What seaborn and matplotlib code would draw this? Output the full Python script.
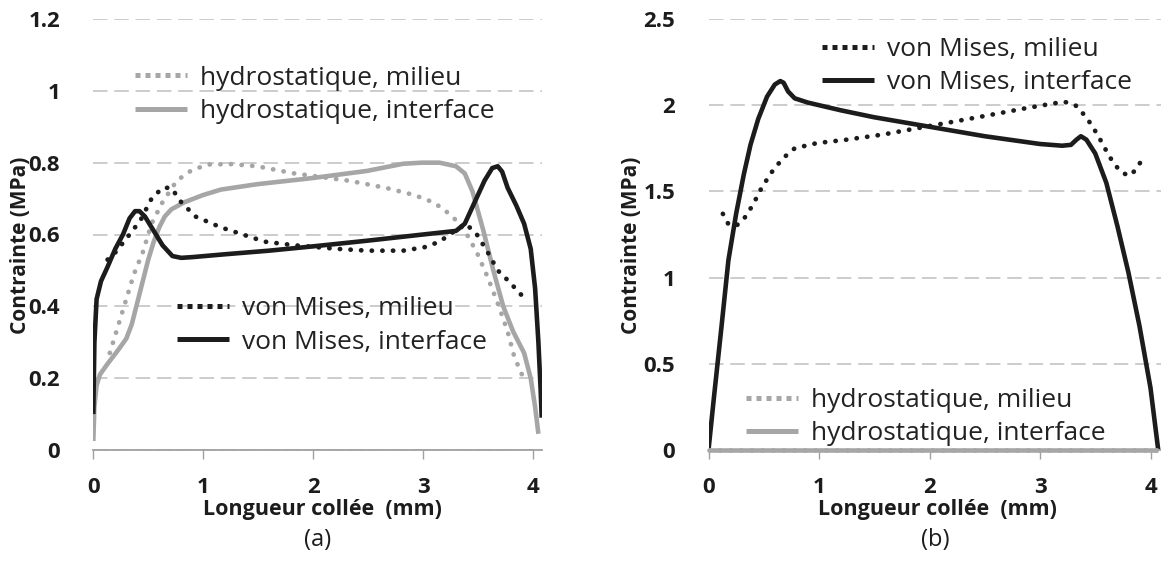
import matplotlib
matplotlib.use("Agg")
import matplotlib.pyplot as plt
import seaborn as sns
import pandas as pd
from matplotlib.lines import Line2D

# ---------------- data (panel a) ----------------
vm_int_a_x = [0, 0.01, 0.03, 0.07, 0.13, 0.2, 0.27, 0.33, 0.38, 0.42, 0.47, 0.55, 0.63, 0.72, 0.8,
              0.9, 1.2, 1.6, 2.0, 2.5, 3.0, 3.3, 3.38, 3.47, 3.56, 3.63, 3.68, 3.72, 3.77, 3.85,
              3.92, 3.98, 4.02, 4.05, 4.07, 4.08]
vm_int_a_y = [0.10, 0.30, 0.42, 0.47, 0.51, 0.56, 0.60, 0.645, 0.665, 0.665, 0.65, 0.61, 0.57, 0.54, 0.535,
              0.537, 0.545, 0.555, 0.567, 0.583, 0.60, 0.61, 0.63, 0.69, 0.75, 0.785, 0.79, 0.775, 0.73, 0.68,
              0.63, 0.56, 0.45, 0.30, 0.17, 0.09]

vm_mil_a_x = [0.13, 0.2, 0.33, 0.43, 0.53, 0.63, 0.71, 0.8, 0.93, 1.16, 1.36, 1.56, 1.83, 2.22, 2.49,
              2.82, 3.02, 3.15, 3.29, 3.39, 3.49, 3.59, 3.68, 3.78, 3.9]
vm_mil_a_y = [0.53, 0.55, 0.60, 0.64, 0.70, 0.73, 0.73, 0.69, 0.65, 0.62, 0.60, 0.58, 0.57, 0.56, 0.555,
              0.555, 0.565, 0.58, 0.61, 0.63, 0.60, 0.55, 0.50, 0.47, 0.43]

hy_mil_a_x = [0.15, 0.2, 0.28, 0.37, 0.45, 0.53, 0.63, 0.76, 0.9, 1.05, 1.26, 1.49, 1.83, 2.32, 2.66,
              2.92, 3.09, 3.19, 3.3, 3.4, 3.49, 3.59, 3.69, 3.77, 3.83, 3.9]
hy_mil_a_y = [0.27, 0.32, 0.40, 0.49, 0.55, 0.63, 0.69, 0.75, 0.78, 0.795, 0.796, 0.79, 0.77, 0.75, 0.73,
              0.71, 0.69, 0.67, 0.64, 0.60, 0.55, 0.48, 0.40, 0.33, 0.26, 0.21]

hy_int_a_x = [0, 0.01, 0.03, 0.06, 0.13, 0.23, 0.3, 0.35, 0.4, 0.45, 0.5, 0.55, 0.6, 0.65, 0.71, 0.77,
              0.83, 1.0, 1.16, 1.49, 1.99, 2.49, 2.82, 2.99, 3.15, 3.3, 3.38, 3.45, 3.55, 3.64, 3.73,
              3.82, 3.92, 3.98, 4.02, 4.05]
hy_int_a_y = [0.025, 0.12, 0.18, 0.21, 0.24, 0.28, 0.31, 0.35, 0.41, 0.47, 0.53, 0.58, 0.62, 0.65, 0.67, 0.68,
              0.69, 0.71, 0.725, 0.74, 0.757, 0.777, 0.797, 0.80, 0.80, 0.79, 0.77, 0.72, 0.61, 0.50, 0.40,
              0.33, 0.27, 0.20, 0.12, 0.045]

# ---------------- data (panel b) ----------------
vm_int_b_x = [0, 0.05, 0.12, 0.18, 0.25, 0.32, 0.38, 0.45, 0.53, 0.6, 0.65, 0.68, 0.72, 0.78, 0.9,
              1.2, 1.5, 2.0, 2.5, 3.0, 3.2, 3.28, 3.33, 3.37, 3.42, 3.5, 3.6, 3.7, 3.8, 3.9, 4.0, 4.07]
vm_int_b_y = [0, 0.31, 0.73, 1.10, 1.37, 1.60, 1.77, 1.92, 2.05, 2.12, 2.14, 2.13, 2.08, 2.04, 2.015,
              1.97, 1.93, 1.875, 1.82, 1.775, 1.765, 1.77, 1.80, 1.82, 1.80, 1.72, 1.55, 1.30, 1.03, 0.72, 0.36, 0.0]

vm_mil_b_x = [0.13, 0.18, 0.25, 0.32, 0.4, 0.48, 0.57, 0.67, 0.78, 0.98, 1.25, 1.58, 1.92, 2.18, 2.52,
              2.85, 3.12, 3.22, 3.32, 3.42, 3.52, 3.63, 3.72, 3.8, 3.86, 3.92]
vm_mil_b_y = [1.37, 1.31, 1.30, 1.34, 1.42, 1.52, 1.61, 1.69, 1.75, 1.78, 1.80, 1.83, 1.87, 1.90, 1.94,
              1.98, 2.01, 2.02, 2.00, 1.93, 1.83, 1.70, 1.62, 1.59, 1.62, 1.68]

hy_b_x = [0, 1, 2, 3, 4, 4.07]
hy_mil_b_y = [0, 0, 0, 0, 0, 0]
hy_int_b_y = [0, 0, 0, 0, 0, 0]

yticks_a = [0, 0.2, 0.4, 0.6, 0.8, 1, 1.2]
ytick_labels_a = ["0", "0.2", "0.4", "0.6", "0.8", "1", "1.2"]
yticks_b = [0, 0.5, 1, 1.5, 2, 2.5]
ytick_labels_b = ["0", "0.5", "1", "1.5", "2", "2.5"]
xticks = [0, 1, 2, 3, 4]

labels = {"hm": "hydrostatique, milieu", "hi": "hydrostatique, interface",
          "vm": "von Mises, milieu", "vi": "von Mises, interface"}
xlabel = "Longueur collée  (mm)"
ylabel = "Contrainte (MPa)"

# ---------------- style ----------------
sns.set_theme(style="white")
plt.rcParams["font.family"] = ["Open Sans", "DejaVu Sans"]

BLACK = "#1c1c1c"
GRAY = "#a6a6a6"
AXGRAY = "#a0a0a0"
GRID = "#c8c8c8"

fig = plt.figure(figsize=(11.61, 5.63), dpi=100)
axA = fig.add_axes([93.3 / 1161, 1 - 450 / 563, 448.4 / 1161, 431 / 563])
axB = fig.add_axes([708.5 / 1161, 1 - 450 / 563, 452.5 / 1161, 431 / 563])

dot = (0, (0.05, 2.2))
styles = {
    "hm": dict(color=GRAY, lw=3.4, linestyle=dot, dash_capstyle="round"),
    "hi": dict(color=GRAY, lw=3.3, linestyle="-", solid_capstyle="butt"),
    "vm": dict(color=BLACK, lw=3.4, linestyle=dot, dash_capstyle="round"),
    "vi": dict(color=BLACK, lw=3.3, linestyle="-", solid_capstyle="butt"),
}
leg_styles = {
    "hm": dict(color=GRAY, lw=3.6, linestyle=(0, (1, 1)), dash_capstyle="butt"),
    "hi": dict(color=GRAY, lw=3.6, linestyle="-", solid_capstyle="butt"),
    "vm": dict(color=BLACK, lw=3.6, linestyle=(0, (1, 1)), dash_capstyle="butt"),
    "vi": dict(color=BLACK, lw=3.6, linestyle="-", solid_capstyle="butt"),
}


def draw(ax, x, y, key, **extra):
    df = pd.DataFrame({"x": x, "y": y})
    sns.lineplot(data=df, x="x", y="y", ax=ax, sort=False, estimator=None,
                 legend=False, **styles[key], **extra)


draw(axA, hy_mil_a_x, hy_mil_a_y, "hm")
draw(axA, hy_int_a_x, hy_int_a_y, "hi")
draw(axA, vm_mil_a_x, vm_mil_a_y, "vm")
draw(axA, vm_int_a_x, vm_int_a_y, "vi")

draw(axB, vm_mil_b_x, vm_mil_b_y, "vm")
draw(axB, vm_int_b_x, vm_int_b_y, "vi")
draw(axB, hy_b_x, hy_mil_b_y, "hm", clip_on=False, zorder=5)
draw(axB, hy_b_x, hy_int_b_y, "hi", clip_on=False, zorder=6)


def style_axes(ax, yticks, ylabels, xmax, ymax, panel, xl_x, yl_x):
    ax.set_xlim(0, xmax)
    ax.set_ylim(0, ymax)
    ax.set_yticks(yticks)
    ax.set_yticklabels(ylabels)
    ax.set_xticks(xticks)
    ax.set_xticklabels([str(t) for t in xticks])
    for s in ["left", "right", "top"]:
        ax.spines[s].set_visible(False)
    ax.spines["bottom"].set_color(AXGRAY)
    ax.spines["bottom"].set_linewidth(1.3)
    ax.yaxis.grid(True, color=GRID, linestyle=(0, (8, 3.8)), linewidth=1.3)
    ax.xaxis.grid(False)
    ax.set_axisbelow(True)
    ax.tick_params(axis="x", bottom=True, direction="out", length=6.5, width=1.0,
                   color=AXGRAY, pad=13, labelsize=16, labelcolor=BLACK)
    ax.tick_params(axis="y", left=False, pad=18, labelsize=16, labelcolor=BLACK)
    for t in ax.get_xticklabels() + ax.get_yticklabels():
        t.set_fontweight("bold")
    ax.set_xlabel(xlabel, fontsize=15.5, fontweight="bold", color=BLACK)
    ax.set_ylabel(ylabel, fontsize=15, fontweight="bold", color=BLACK)
    ax.xaxis.set_label_coords(xl_x, -0.139)
    ax.xaxis.label.set_va("center")
    ax.yaxis.set_label_coords(yl_x, 0.476)
    ax.yaxis.label.set_va("center")
    ax.text(0.5, -0.209, panel, transform=ax.transAxes, ha="center", va="center",
            fontsize=17, color=BLACK)


style_axes(axA, yticks_a, ytick_labels_a, 4.08, 1.2, "(a)", 0.51, -0.163)
style_axes(axB, yticks_b, ytick_labels_b, 4.095, 2.5, "(b)", 0.505, -0.17)


def add_legend(ax, keys, xy):
    handles = [Line2D([], [], **leg_styles[k]) for k in keys]
    leg = ax.legend(handles, [labels[k] for k in keys],
                    loc="center left", bbox_to_anchor=xy, frameon=False,
                    fontsize=19, handlelength=1.97, handletextpad=0.5,
                    labelspacing=0.32, borderpad=0, borderaxespad=0)
    for t in leg.get_texts():
        t.set_color("#222222")
    return leg


legA1 = add_legend(axA, ["hm", "hi"], (0.093, 0.824))
axA.add_artist(legA1)
add_legend(axA, ["vm", "vi"], (0.186, 0.289))

legB1 = add_legend(axB, ["vm", "vi"], (0.25, 0.891))
axB.add_artist(legB1)
add_legend(axB, ["hm", "hi"], (0.083, 0.076))

fig.savefig("out.png", dpi=100)
